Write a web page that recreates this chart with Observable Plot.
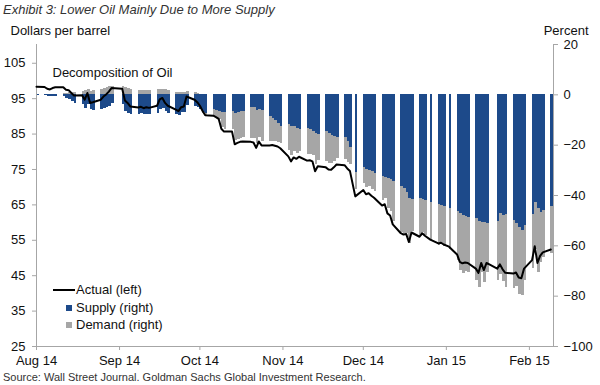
<!DOCTYPE html>
<html><head><meta charset="utf-8">
<script src="https://cdn.jsdelivr.net/npm/d3@7"></script>
<script src="https://cdn.jsdelivr.net/npm/@observablehq/plot@0.6"></script>
<style>
body{margin:0;background:#fff;font-family:"Liberation Sans",Arial,sans-serif;}
#wrap{position:relative;width:600px;height:385px;overflow:hidden;background:#fff;}
#title{position:absolute;left:3px;top:0;height:20px;line-height:20px;font-style:italic;font-size:13px;color:#333;white-space:nowrap;}
#chart{position:absolute;left:0;top:20px;}
#chart svg{display:block;}
#source{position:absolute;left:3px;top:371px;line-height:13px;font-size:11px;color:#333;white-space:nowrap;}
.lg{position:absolute;font-size:13px;line-height:16px;color:#111;white-space:nowrap;}
.sw{position:absolute;}
</style></head>
<body>
<div id="wrap">
  <div id="title">Exhibit 3: Lower Oil Mainly Due to More Supply</div>
  <div id="chart"></div>
  <div class="sw" style="left:53px;top:289px;width:22px;height:2px;background:#000"></div>
  <div class="lg" style="left:76px;top:282px">Actual (left)</div>
  <div class="sw" style="left:66px;top:305px;width:6px;height:6px;background:#1d4a8a"></div>
  <div class="lg" style="left:76px;top:300px">Supply (right)</div>
  <div class="sw" style="left:66px;top:322px;width:6px;height:6px;background:#a6a6a6"></div>
  <div class="lg" style="left:76px;top:317px">Demand (right)</div>
  <div id="source">Source: Wall Street Journal. Goldman Sachs Global Investment Research.</div>
</div>
<script>
const dates = [
"2014-08-01","2014-08-04","2014-08-05","2014-08-06","2014-08-07","2014-08-08","2014-08-11","2014-08-12","2014-08-13","2014-08-14","2014-08-15","2014-08-18","2014-08-19","2014-08-20","2014-08-21","2014-08-22","2014-08-25","2014-08-26","2014-08-27","2014-08-28","2014-08-29",
"2014-09-02","2014-09-03","2014-09-04","2014-09-05","2014-09-08","2014-09-09","2014-09-10","2014-09-11","2014-09-12","2014-09-15","2014-09-16","2014-09-17","2014-09-18","2014-09-19","2014-09-22","2014-09-23","2014-09-24","2014-09-25","2014-09-26","2014-09-29","2014-09-30",
"2014-10-01","2014-10-02","2014-10-03","2014-10-06","2014-10-07","2014-10-08","2014-10-09","2014-10-10","2014-10-13","2014-10-14","2014-10-15","2014-10-16","2014-10-17","2014-10-20","2014-10-21","2014-10-22","2014-10-23","2014-10-24","2014-10-27","2014-10-28","2014-10-29","2014-10-30","2014-10-31",
"2014-11-03","2014-11-04","2014-11-05","2014-11-06","2014-11-07","2014-11-10","2014-11-11","2014-11-12","2014-11-13","2014-11-14","2014-11-17","2014-11-18","2014-11-19","2014-11-20","2014-11-21","2014-11-24","2014-11-25","2014-11-26","2014-11-28",
"2014-12-01","2014-12-02","2014-12-03","2014-12-04","2014-12-05","2014-12-08","2014-12-09","2014-12-10","2014-12-11","2014-12-12","2014-12-15","2014-12-16","2014-12-17","2014-12-18","2014-12-19","2014-12-22","2014-12-23","2014-12-24","2014-12-26","2014-12-29","2014-12-30","2014-12-31",
"2015-01-02","2015-01-05","2015-01-06","2015-01-07","2015-01-08","2015-01-09","2015-01-12","2015-01-13","2015-01-14","2015-01-15","2015-01-16","2015-01-20","2015-01-21","2015-01-22","2015-01-23","2015-01-26","2015-01-27","2015-01-28","2015-01-29","2015-01-30",
"2015-02-02","2015-02-03","2015-02-04","2015-02-05","2015-02-06","2015-02-09"
];
// Actual oil price, dollars per barrel (left axis)
const actual = [
98.4,98.3,97.8,97.6,98.0,98.2,98.2,97.5,97.4,96.6,95.9,96.0,94.7,96.6,93.8,94.0,94.7,95.6,96.2,97.0,98.0,
97.8,94.5,93.8,92.8,92.5,92.7,92.3,92.6,92.4,93.0,94.8,95.2,93.8,93.0,91.9,91.5,92.6,92.8,95.6,94.7,94.0,
93.0,91.5,90.3,90.2,89.8,89.3,86.5,85.7,85.7,82.1,82.5,82.8,82.9,82.8,82.6,81.1,82.9,81.8,81.8,81.9,81.7,81.5,81.0,
78.7,77.3,78.4,78.0,78.6,77.5,77.6,77.3,74.5,75.9,75.6,75.0,74.9,75.6,76.4,76.2,75.3,74.6,67.4,
69.2,68.0,68.3,67.6,67.0,64.8,65.2,62.6,62.0,59.5,57.0,56.6,56.8,54.5,57.2,56.0,57.0,56.3,55.2,54.1,54.3,53.8,
53.2,51.0,48.9,48.5,48.7,48.6,47.0,45.8,48.6,46.6,48.6,47.0,48.2,46.8,45.8,45.6,45.9,44.5,44.3,47.0,
49.4,53.3,48.6,50.6,51.6,52.4
];
// Supply contribution, percent (right axis)
const supply = [
-0.3,-0.4,-0.6,-0.8,-0.6,-0.5,-0.8,-1.5,-2.0,-2.8,-3.4,-4.0,-5.5,-4.0,-6.0,-6.2,-5.8,-5.4,-5.2,-4.6,-3.6,
-3.8,-6.8,-7.4,-8.0,-7.8,-7.6,-8.0,-7.8,-8.0,-7.6,-6.0,-5.6,-6.8,-7.4,-7.8,-8.2,-7.2,-7.0,-4.2,-4.6,-5.2,
-5.8,-7.0,-7.6,-6.0,-6.2,-6.5,-7.0,-7.2,-6.8,-7.6,-7.2,-6.8,-6.6,-5.0,-5.2,-6.2,-5.8,-6.4,-8.6,-9.4,-10.2,-11.4,-12.4,
-11.8,-12.6,-12.6,-13.2,-13.6,-13.2,-13.8,-14.4,-15.4,-15.6,-14.6,-15.4,-16.2,-16.6,-17.0,-16.8,-18.4,-21.0,-31.0,
-29.0,-29.6,-30.0,-30.4,-31.2,-32.4,-33.0,-33.4,-33.8,-34.6,-36.4,-37.4,-39.0,-41.0,-41.4,-41.0,-41.6,-42.0,-42.8,-43.6,-44.0,-44.4,
-45.2,-46.4,-47.0,-47.8,-48.2,-48.8,-49.0,-50.4,-50.8,-50.6,-51.0,-50.4,-47.2,-48.0,-47.4,-50.0,-51.0,-52.6,-53.8,-51.8,
-47.6,-42.6,-45.2,-46.8,-45.8,-44.4
];
// Demand contribution, percent (right axis)
const demand = [
0.3,0.3,0.0,0.0,0.2,0.3,0.6,0.6,1.0,1.0,0.8,1.5,1.7,2.2,1.2,1.6,2.0,2.5,2.9,3.2,3.2,
3.2,2.8,2.6,2.1,1.6,1.6,1.6,1.7,1.7,2.0,2.3,2.3,2.0,1.8,1.0,0.9,1.1,1.1,1.3,0.8,0.6,
0.2,-0.3,-1.0,-2.7,-3.0,-3.2,-5.9,-6.6,-7.0,-10.5,-10.4,-10.5,-10.5,-12.3,-12.3,-13.1,-11.3,-12.1,-9.9,-9.0,-8.4,-7.4,-7.1,
-10.5,-11.5,-10.1,-10.0,-8.9,-10.7,-10.0,-9.7,-12.4,-10.4,-11.8,-11.8,-11.1,-9.8,-8.3,-8.8,-8.4,-6.7,-6.8,
-6.2,-7.4,-6.5,-7.1,-7.2,-9.4,-8.2,-11.8,-12.4,-15.7,-18.2,-17.9,-16.0,-18.1,-12.9,-15.4,-13.0,-13.8,-15.0,-16.2,-15.5,-16.0,
-16.3,-19.3,-22.9,-23.0,-22.1,-21.7,-24.9,-26.1,-19.7,-24.1,-19.5,-23.5,-24.2,-26.3,-29.1,-26.9,-25.3,-26.8,-26.0,-22.1,
-21.3,-18.7,-25.3,-19.7,-18.8,-18.6
];
const priceTicks = [25,35,45,55,65,75,85,95,105];
const pctTicks = [-100,-80,-60,-40,-20,0,20];
const monthTicks = ["2014-08-01","2014-09-01","2014-10-01","2014-11-01","2014-12-01","2015-01-01","2015-02-01"];
const seriesNames = ["Supply","Demand"];
const seriesColors = ["#1d4a8a","#a6a6a6"];

const priceDomain = [25, 110.3];
const pctDomain = [-100, 20];
const toPct = p => pctDomain[0] + (p - priceDomain[0]) * (pctDomain[1] - pctDomain[0]) / (priceDomain[1] - priceDomain[0]);
const fromPct = v => priceDomain[0] + (v - pctDomain[0]) * (priceDomain[1] - priceDomain[0]) / (pctDomain[1] - pctDomain[0]);

const parse = d3.utcParse("%Y-%m-%d");
const lineRows = dates.map((d, i) => ({date: parse(d), price: actual[i]}));
const barRows = [
  ...dates.map((d, i) => ({date: parse(d), series: "Supply", value: supply[i]})),
  ...dates.map((d, i) => ({date: parse(d), series: "Demand", value: demand[i]}))
];
const axisGray = "#a6a6a6";

const chart = Plot.plot({
  width: 600,
  height: 352,
  marginTop: 24,
  marginBottom: 26,
  marginLeft: 36,
  marginRight: 47,
  style: {fontFamily: "'Liberation Sans', Arial, sans-serif", fontSize: "13px", color: "#111", background: "transparent", overflow: "visible"},
  x: {type: "utc", domain: [parse("2014-08-01"), parse("2015-02-10")]},
  y: {domain: pctDomain},
  color: {domain: seriesNames, range: seriesColors},
  marks: [
    Plot.rectY(barRows, {x: "date", y: "value", interval: d3.utcDay, fill: "series", inset: 0, insetLeft: 0, insetRight: 0, shapeRendering: "crispEdges"}),
    Plot.frame({anchor: "left", stroke: axisGray}),
    Plot.frame({anchor: "right", stroke: axisGray}),
    Plot.frame({anchor: "bottom", stroke: axisGray}),
    Plot.axisX(monthTicks.map(parse), {tickFormat: d3.utcFormat("%b %y"), tickSize: 4, tickPadding: 5, stroke: axisGray, fill: "#111", label: null}),
    Plot.axisY(priceTicks.map(toPct), {anchor: "left", tickFormat: d => String(Math.round(fromPct(d))), tickSize: 4, tickPadding: 7, stroke: axisGray, fill: "#111", label: null}),
    Plot.axisY(pctTicks, {anchor: "right", tickSize: 4, tickPadding: 6, stroke: axisGray, fill: "#111", label: null}),
    Plot.lineY(lineRows, {x: "date", y: d => toPct(d.price), stroke: "#000", strokeWidth: 2}),
    Plot.text(["Decomposition of Oil"], {text: d => d, frameAnchor: "top-left", lineAnchor: "middle", dx: 16, dy: 28, textAnchor: "start", fontSize: 13, fill: "#111"}),
    Plot.text(["Dollars per barrel"], {text: d => d, frameAnchor: "top-left", lineAnchor: "middle", dx: -26, dy: -14, textAnchor: "start", fontSize: 13, fill: "#111"}),
    Plot.text(["Percent"], {text: d => d, frameAnchor: "top-right", lineAnchor: "middle", dx: 35, dy: -14, textAnchor: "end", fontSize: 13, fill: "#111"})
  ]
});
document.getElementById("chart").appendChild(chart);
</script>
</body></html>
